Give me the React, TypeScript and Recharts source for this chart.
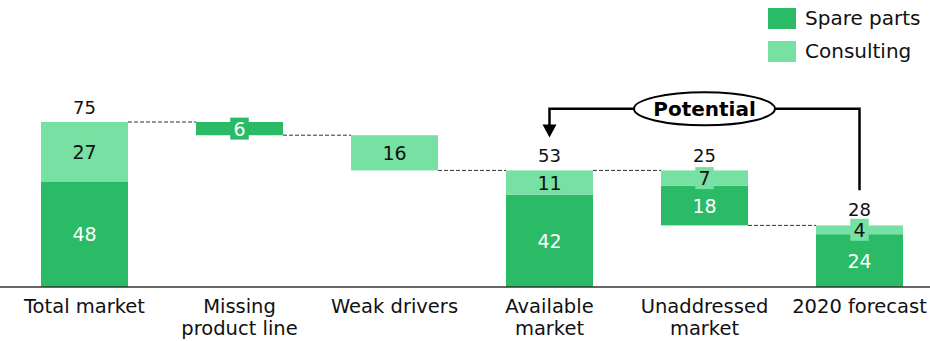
import React from 'react';
import { BarChart, Bar, XAxis, YAxis, Legend } from 'recharts';

const categories = [
  'Total market',
  'Missing\nproduct line',
  'Weak drivers',
  'Available\nmarket',
  'Unaddressed\nmarket',
  '2020 forecast',
];
const baseValues = [0, 69, 53, 0, 28, 0];
const spareParts = [48, 6, 0, 42, 18, 24];
const consulting = [27, 0, 16, 11, 7, 4];
const totals = [75, null, null, 53, 25, 28];
// where the dashed line to the next bar starts: top of the stack or bottom of a floating bar
const connectors = ['top', 'bottom', 'bottom', 'top', 'bottom', null];

// "Potential" bracket, in chart units
const BRACKET = { from: 5, to: 3, label: 4, level: 81, start: 44, tip: 68 };

const DARK = '#2bbb66';
const LIGHT = '#77e1a3';
const FONT = '"DejaVu Sans", Verdana, sans-serif';
const W = 930;
const H = 341;
const PAD_LEFT = 7;
const BAND = W / categories.length;
const BAR_SIZE = 87;
const GAP = BAND - BAR_SIZE;

const data = categories.map((name, i) => ({
  name,
  base: baseValues[i],
  spare: spareParts[i],
  consulting: consulting[i],
  total: totals[i],
  conn: connectors[i],
  idx: i,
}));

const dash = { stroke: '#333', strokeWidth: 1, strokeDasharray: '4 2' };

function SegLabel({ x, y, width, height, value, color, textColor }: any) {
  const cx = x + width / 2;
  const cy = y + height / 2;
  const bw = String(value).length * 11.5 + 7;
  return (
    <g>
      <rect x={cx - bw / 2} y={cy - 11} width={bw} height={22} fill={color} />
      <text x={cx} y={cy + 7} textAnchor="middle" fontSize={19} fontFamily={FONT} fill={textColor}>
        {value}
      </text>
    </g>
  );
}

function BaseShape(props: any) {
  const { x, y, width, payload } = props;
  if (payload.conn !== 'bottom') return <g />;
  return <line x1={x + width} x2={x + width + GAP} y1={y} y2={y} {...dash} />;
}

function SpareShape(props: any) {
  const { x, y, width, height, payload } = props;
  if (!payload.spare) return <g />;
  return (
    <g>
      <rect x={x} y={y} width={width} height={height} fill={DARK} />
      <SegLabel x={x} y={y} width={width} height={height} value={payload.spare} color={DARK} textColor="#fff" />
    </g>
  );
}

function ConsultingShape(props: any) {
  const { x, y, width, height, payload } = props;
  if (!payload.consulting) return <g />;
  const lo = payload.base + payload.spare;
  const k = height / payload.consulting;
  const yOf = (v: number) => y + height - (v - lo) * k;
  const cx = x + width / 2;
  const boxTop = y + height / 2 - 11;
  let bracket = null;
  if (payload.idx === BRACKET.from) {
    const xL = cx - (BRACKET.from - BRACKET.to) * BAND;
    const xE = cx - (BRACKET.from - BRACKET.label) * BAND;
    const yl = yOf(BRACKET.level);
    const tip = yOf(BRACKET.tip);
    bracket = (
      <g>
        <path
          d={`M${cx},${yOf(BRACKET.start)} V${yl} H${xL} V${tip - 12}`}
          fill="none"
          stroke="#000"
          strokeWidth={2.5}
        />
        <polygon points={`${xL - 7},${tip - 13} ${xL + 7},${tip - 13} ${xL},${tip}`} fill="#000" />
        <ellipse cx={xE} cy={yl} rx={70.5} ry={16.5} fill="#fff" stroke="#000" strokeWidth={2} />
        <text x={xE} y={yl + 7} textAnchor="middle" fontSize={20} fontWeight="bold" fontFamily={FONT} fill="#000">
          Potential
        </text>
      </g>
    );
  }
  return (
    <g>
      <rect x={x} y={y} width={width} height={height} fill={LIGHT} />
      <SegLabel x={x} y={y} width={width} height={height} value={payload.consulting} color={LIGHT} textColor="#111" />
      {payload.conn === 'top' && <line x1={x + width} x2={x + width + GAP} y1={y} y2={y} {...dash} />}
      {payload.total != null && (
        <text x={cx} y={Math.min(y - 8, boxTop - 2.5)} textAnchor="middle" fontSize={18} fontFamily={FONT} fill="#111">
          {payload.total}
        </text>
      )}
      {bracket}
    </g>
  );
}

function CategoryTick({ x, y, payload }: any) {
  const lines = String(payload.value).split('\n');
  return (
    <text x={x} y={y} textAnchor="middle" fontSize={19.5} fontFamily={FONT} fill="#111">
      {lines.map((l, i) => (
        <tspan key={i} x={x} dy={i === 0 ? 26 : 21.5}>
          {l}
        </tspan>
      ))}
    </text>
  );
}

const legendItems = [
  { label: 'Spare parts', color: DARK },
  { label: 'Consulting', color: LIGHT },
];

function LegendContent() {
  return (
    <div style={{ fontFamily: FONT, fontSize: 20, color: '#111' }}>
      {legendItems.map((it, i) => (
        <div key={it.label} style={{ display: 'flex', alignItems: 'center', height: 21, marginTop: i === 0 ? 8 : 12 }}>
          <span style={{ width: 28, height: 21, background: it.color, display: 'inline-block', marginRight: 9 }} />
          <span style={{ lineHeight: '21px' }}>{it.label}</span>
        </div>
      ))}
    </div>
  );
}

export default function App() {
  return (
    <div style={{ position: 'absolute', left: 0, top: 0, width: W, height: H, overflow: 'hidden', background: '#fff' }}>
      <BarChart
        width={W + PAD_LEFT}
        height={H}
        data={data}
        margin={{ top: 67, right: 0, bottom: 0, left: 0 }}
        barSize={BAR_SIZE}
      >
        <XAxis
          dataKey="name"
          height={54}
          padding={{ left: PAD_LEFT, right: 0 }}
          tickLine={false}
          tickSize={0}
          tickMargin={0}
          axisLine={{ stroke: '#333', strokeWidth: 1.5 }}
          tick={<CategoryTick />}
          interval={0}
        />
        <YAxis hide domain={[0, 100]} />
        <Legend
          layout="horizontal"
          verticalAlign="middle"
          align="center"
          wrapperStyle={{ top: 0, left: 768, width: 162 }}
          content={<LegendContent />}
        />
        <Bar dataKey="base" stackId="a" isAnimationActive={false} shape={<BaseShape />} />
        <Bar dataKey="spare" stackId="a" isAnimationActive={false} shape={<SpareShape />} />
        <Bar dataKey="consulting" stackId="a" isAnimationActive={false} shape={<ConsultingShape />} />
      </BarChart>
    </div>
  );
}
